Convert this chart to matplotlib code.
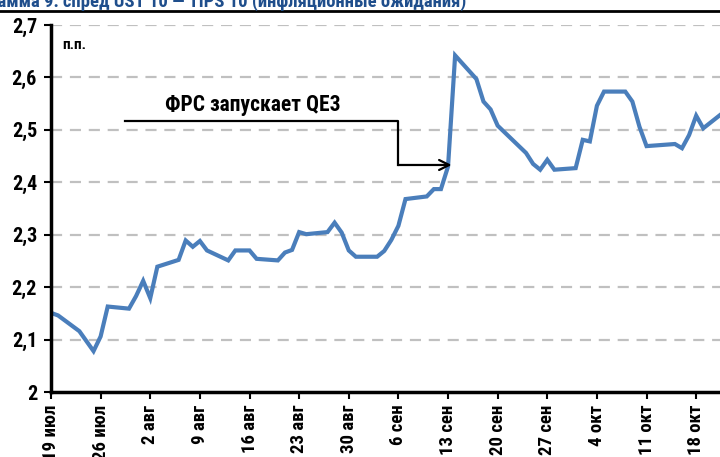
import pandas as pd
import matplotlib
matplotlib.use("Agg")
import matplotlib.pyplot as plt
from matplotlib.lines import Line2D
from matplotlib import font_manager

# --- данные: спред UST 10 - TIPS 10, п.п. ---
dates = ["2012-07-19", "2012-07-20", "2012-07-23", "2012-07-24", "2012-07-25",
         "2012-07-26", "2012-07-27", "2012-07-30", "2012-07-31", "2012-08-01",
         "2012-08-02", "2012-08-03", "2012-08-06", "2012-08-07", "2012-08-08",
         "2012-08-09", "2012-08-10", "2012-08-13", "2012-08-14", "2012-08-15",
         "2012-08-16", "2012-08-17", "2012-08-20", "2012-08-21", "2012-08-22",
         "2012-08-23", "2012-08-24", "2012-08-27", "2012-08-28", "2012-08-29",
         "2012-08-30", "2012-08-31", "2012-09-03", "2012-09-04", "2012-09-05",
         "2012-09-06", "2012-09-07", "2012-09-10", "2012-09-11", "2012-09-12",
         "2012-09-13", "2012-09-14", "2012-09-17", "2012-09-18", "2012-09-19",
         "2012-09-20", "2012-09-21", "2012-09-24", "2012-09-25", "2012-09-26",
         "2012-09-27", "2012-09-28", "2012-10-01", "2012-10-02", "2012-10-03",
         "2012-10-04", "2012-10-05", "2012-10-08", "2012-10-09", "2012-10-10",
         "2012-10-11", "2012-10-12", "2012-10-15", "2012-10-16", "2012-10-17",
         "2012-10-18", "2012-10-19", "2012-10-22"]
spread = [2.151, 2.146, 2.116, 2.097, 2.078,
          2.106, 2.163, 2.159, 2.183, 2.212,
          2.179, 2.239, 2.252, 2.289, 2.277,
          2.288, 2.270, 2.251, 2.270, 2.270,
          2.270, 2.254, 2.251, 2.266, 2.271,
          2.305, 2.301, 2.305, 2.323, 2.304,
          2.270, 2.258, 2.258, 2.269, 2.290,
          2.317, 2.368, 2.373, 2.387, 2.387,
          2.430, 2.642, 2.597, 2.554, 2.539,
          2.508, 2.495, 2.456, 2.435, 2.424,
          2.443, 2.424, 2.427, 2.481, 2.478,
          2.546, 2.573, 2.573, 2.554, 2.506,
          2.469, 2.470, 2.473, 2.465, 2.490,
          2.527, 2.503, 2.535]

tick_dates = ["2012-07-19", "2012-07-26", "2012-08-02", "2012-08-09", "2012-08-16",
              "2012-08-23", "2012-08-30", "2012-09-06", "2012-09-13", "2012-09-20",
              "2012-09-27", "2012-10-04", "2012-10-11", "2012-10-18"]
tick_labels = ["19 июл", "26 июл", "2 авг", "9 авг", "16 авг", "23 авг", "30 авг",
               "6 сен", "13 сен", "20 сен", "27 сен", "4 окт", "11 окт", "18 окт"]
y_ticks = [2.0, 2.1, 2.2, 2.3, 2.4, 2.5, 2.6, 2.7]
y_labels = ["2", "2,1", "2,2", "2,3", "2,4", "2,5", "2,6", "2,7"]

TITLE = "Диаграмма 9: спред UST 10 — TIPS 10 (инфляционные ожидания)"
NOTE = "ФРС запускает QE3"
LINE, GRID, NAVY = "#4a7ebb", "#c0c0c0", "#1f4e8c"

# узкий шрифт, если есть
have = {f.name for f in font_manager.fontManager.ttflist}
FONT = [f for f in ["Roboto Condensed", "Liberation Sans Narrow", "Roboto"] if f in have]
FONT.append("DejaVu Sans")
plt.rcParams["font.family"] = FONT

x = pd.to_datetime(dates)
xt = pd.to_datetime(tick_dates)
x0 = pd.Timestamp("2012-07-19")
x1 = x0 + pd.Timedelta(days=94.36)

fig = plt.figure(figsize=(7.2, 4.57), dpi=100)
ax = fig.add_axes([51 / 720, 65 / 457, 669 / 720, 367 / 457])

for v in y_ticks[1:]:
    ax.axhline(v, color=GRID, lw=1.6, dashes=(5, 3.5), zorder=1)
ax.plot(x, spread, color=LINE, lw=3, solid_joinstyle="miter", zorder=3)

ax.set_xlim(x0, x1)
ax.set_ylim(2.0, 2.7)
ax.set_yticks(y_ticks)
ax.set_yticklabels(y_labels, fontsize=14.5, fontweight="bold")
ax.set_xticks(xt)
ax.set_xticklabels(tick_labels, rotation=90, fontsize=13.5, fontweight="bold",
                   va="top", ha="center")
ax.tick_params(axis="both", direction="out", length=5, width=1.5, color="black")
ax.tick_params(axis="x", pad=4)
ax.tick_params(axis="y", pad=5)
for s in ["top", "right"]:
    ax.spines[s].set_visible(False)
for s in ["left", "bottom"]:
    ax.spines[s].set_linewidth(2.5)
    ax.spines[s].set_color("black")
ax.spines["left"].set_zorder(5)

ax.text(x0 + pd.Timedelta(days=1.6), 2.662, "п.п.", fontsize=11, fontweight="bold",
        va="center", ha="left")

# стрелка-выноска: QE3 объявлено 13 сентября
xa = x0 + pd.Timedelta(days=10.4)
xb = pd.Timestamp("2012-09-06")
xc = x0 + pd.Timedelta(days=56.5)
ax.plot([xa, xb, xb], [2.517, 2.517, 2.433], color="black", lw=1.6, zorder=4)
ax.annotate("", xy=(xc, 2.433), xytext=(xb, 2.433),
            arrowprops=dict(arrowstyle="->", color="black", lw=1.6,
                            mutation_scale=18, shrinkA=0, shrinkB=0), zorder=4)
ax.text(x0 + pd.Timedelta(days=28.5), 2.527, NOTE, fontsize=15.5, fontweight="bold",
        ha="center", va="bottom")

# обрезанный заголовок и линия под ним
fig.text(466 / 720, 1 - 7 / 457, TITLE, fontsize=13.4, fontweight="bold", color=NAVY,
         ha="right", va="baseline")
fig.add_artist(Line2D([0, 1], [1 - 11 / 457] * 2, color="black", lw=2))

fig.savefig("out.png", dpi=100)
plt.close(fig)
